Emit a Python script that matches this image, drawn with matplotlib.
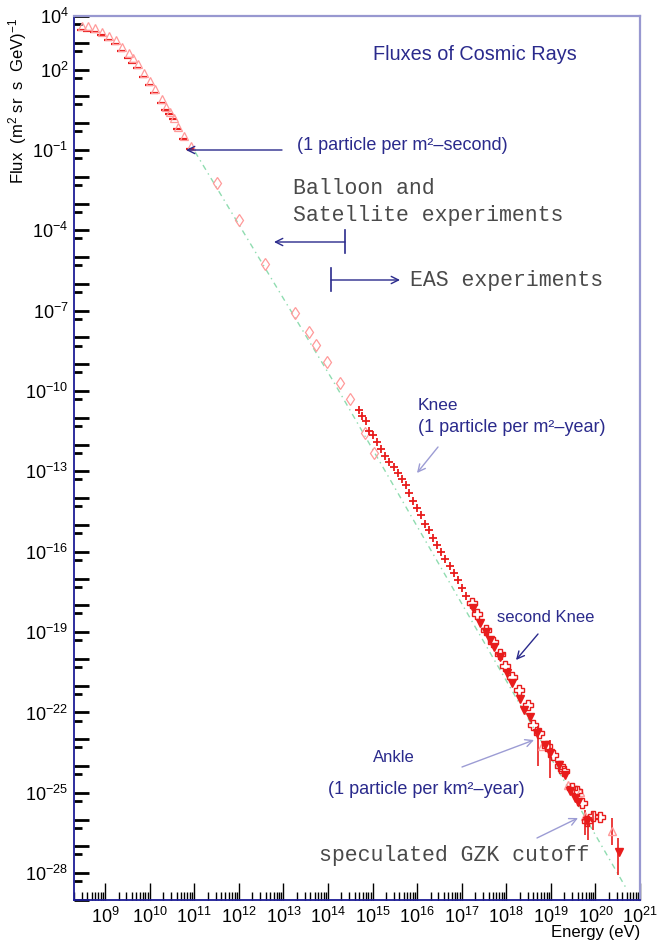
import numpy as np
import matplotlib
matplotlib.use("Agg")
import matplotlib.pyplot as plt
from matplotlib.lines import Line2D
from matplotlib.ticker import FixedLocator, FuncFormatter, NullFormatter

W, H = 664, 952

# ---- values, as log10(E/eV) and log10(flux) ----
# direct measurements at low energy: open triangles and the red bars below them
tri_logE = [8.476, 8.624, 8.775, 8.939, 9.089, 9.239, 9.387, 9.537, 9.634, 9.733,
            9.874, 10.009, 10.127, 10.278, 10.374, 10.457, 10.554, 10.643, 10.771, 10.935]
tri_logF = [3.638, 3.638, 3.541, 3.414, 3.265, 3.104, 2.832, 2.608, 2.422, 2.209,
            1.884, 1.575, 1.276, 0.892, 0.616, 0.407, 0.183, -0.131, -0.467, -0.851]
bar_logE = [8.45, 8.60, 8.75, 8.91, 9.06, 9.21, 9.36, 9.51, 9.61, 9.71,
            9.85, 9.98, 10.10, 10.25, 10.35, 10.43, 10.53, 10.62, 10.75, 10.91]
bar_logF = [3.478, 3.440, 3.392, 3.291, 3.104, 2.955, 2.694, 2.422, 2.235, 2.049,
            1.713, 1.414, 1.127, 0.754, 0.493, 0.332, 0.146, -0.205, -0.601, -0.974]

# balloon / satellite points
dia_logE = [11.505, 12.005, 12.588, 13.261, 13.582, 13.732, 13.986, 14.270, 14.495, 14.831, 15.033]
dia_logF = [-2.243, -3.612, -5.272, -7.082, -7.791, -8.276, -8.910, -9.694, -10.291, -11.560, -12.306]

# air shower array points around the knee
plus_logE = [14.703, 14.757, 14.847, 14.921, 15.017, 15.107, 15.197, 15.287, 15.376, 15.482,
             15.565, 15.655, 15.751, 15.825, 15.915, 16.004, 16.094, 16.184, 16.274, 16.363,
             16.446, 16.543, 16.633, 16.727, 16.817, 16.906, 17.003, 17.090]
plus_logF = [-10.701, -10.914, -11.101, -11.485, -11.634, -11.907, -12.157, -12.418, -12.631, -12.840,
             -13.063, -13.276, -13.511, -13.810, -14.123, -14.369, -14.631, -14.966, -15.205, -15.489,
             -15.765, -16.000, -16.272, -16.522, -16.795, -17.071, -17.354, -17.660]

# highest energies: open crosses, filled down triangles, open triangles
cross_logE = [17.225, 17.350, 17.546, 17.709, 17.860, 17.978, 18.122, 18.275, 18.476, 18.607,
              18.734, 18.907, 19.037, 19.205, 19.306, 19.468, 19.580, 19.692, 19.822, 19.952, 20.092]
cross_logF = [-17.914, -18.325, -18.910, -19.384, -19.806, -20.254, -20.675, -21.149, -21.739, -22.455,
              -22.754, -23.265, -23.575, -23.985, -24.172, -24.817, -24.944, -25.377, -26.037, -25.869, -25.907]
down_logE = [17.261, 17.411, 17.534, 17.635, 17.714, 17.848, 18.005, 18.118, 18.297, 18.387, 18.533,
             18.678, 18.869, 18.981, 19.172, 19.318, 19.430, 19.542, 19.620, 19.822, 20.518]
down_logF = [-18.101, -18.660, -18.985, -19.284, -19.563, -19.937, -20.534, -20.907, -21.504, -21.896, -22.157,
             -22.772, -23.201, -23.519, -23.948, -24.321, -24.937, -25.198, -25.328, -26.056, -27.194]
otri_logE = [18.795, 19.374, 19.654, 19.766, 20.365]
otri_logF = [-23.239, -24.694, -24.955, -25.877, -26.437]

# vertical error bars on the last points
err_logE = [18.719, 18.981, 19.766, 19.840, 19.939, 20.365, 20.513]
err_lo = [-24.011, -24.433, -26.560, -26.746, -26.373, -26.933, -28.052]
err_hi = [-22.519, -23.015, -25.627, -25.813, -25.690, -25.925, -26.672]

# dash-dotted power law guide
fit_logE = [11.018, 14.113, 20.708]
fit_logF = [-1.075, -9.619, -28.612]

# axis labels: every decade on x, every third decade on y (plus the top one)
x_label_exp = list(range(9, 22))
y_label_exp = [4, 2, -1, -4, -7, -10, -13, -16, -19, -22, -25, -28]

NAVY = "#2a2a8c"
LIGHT = "#9c9cd4"
PINK = "#ff9a9a"
RED = "#e81c1c"
GREY = "#4a4a4a"

SANS = ["Liberation Sans", "DejaVu Sans"]
MONO = ["Liberation Mono", "DejaVu Sans Mono"]

plt.rcParams["font.family"] = SANS
plt.rcParams["mathtext.fontset"] = "custom"
plt.rcParams["mathtext.rm"] = "Liberation Sans"
plt.rcParams["mathtext.it"] = "Liberation Sans"
plt.rcParams["mathtext.default"] = "rm"


def p(a):
    return 10.0 ** np.asarray(a, dtype=float)


def fpos(px, py):
    """Pixel position in the reference picture -> figure fraction."""
    return (px / W, 1.0 - py / H)


fig = plt.figure(figsize=(W / 100, H / 100), dpi=100)
ax = fig.add_axes([74 / W, 1 - 900 / H, (640 - 74) / W, (900 - 16) / H])
ax.set_xscale("log")
ax.set_yscale("log")
ax.set_xlim(2e8, 1e21)
ax.set_ylim(1e-29, 1e4)

# frame
for side in ("left", "bottom"):
    ax.spines[side].set_color("#1c1c96")
    ax.spines[side].set_linewidth(1.3)
for side in ("top", "right"):
    ax.spines[side].set_color("#9898d0")
    ax.spines[side].set_linewidth(1.6)

# y ticks
ax.yaxis.set_major_locator(FixedLocator([10.0 ** n for n in range(-29, 5)]))
ax.yaxis.set_minor_locator(FixedLocator([5 * 10.0 ** n for n in range(-30, 4)]))
ax.yaxis.set_major_formatter(FuncFormatter(
    lambda v, pos: (r"$10^{%d}$" % round(np.log10(v))) if round(np.log10(v)) in y_label_exp else ""))
ax.yaxis.set_minor_formatter(NullFormatter())
ax.tick_params(axis="y", which="major", direction="in", length=11, width=2, color="black",
               labelsize=13, pad=4, right=False)
ax.tick_params(axis="y", which="minor", direction="in", length=5.5, width=2, color="black", right=False)

# x ticks
ax.xaxis.set_major_locator(FixedLocator([10.0 ** n for n in x_label_exp]))
ax.xaxis.set_minor_locator(FixedLocator([m * 10.0 ** n for n in range(8, 21) for m in range(2, 10)]))
ax.xaxis.set_major_formatter(FuncFormatter(lambda v, pos: r"$10^{%d}$" % round(np.log10(v))))
ax.xaxis.set_minor_formatter(NullFormatter())
ax.tick_params(axis="x", which="major", direction="in", length=12, width=1, color="black",
               labelsize=13, pad=5, top=False)
ax.tick_params(axis="x", which="minor", direction="in", length=6, width=1, color="black", top=False)

# guide line
ax.plot(p(fit_logE), p(fit_logF), color="#8fdcb0", lw=1.0, ls=(0, (4, 3, 1, 3)), zorder=1)

# data
ax.plot(p(bar_logE), p(bar_logF), ls="none", marker="_", ms=6, mew=1.6, color=RED, zorder=3)
ax.plot(p(tri_logE), p(tri_logF), ls="none", marker="^", ms=5.5, mfc="none", mec=PINK, mew=0.9, zorder=3)
ax.plot(p(dia_logE), p(dia_logF), ls="none", marker="d", ms=6.5, mfc="none", mec=PINK, mew=0.9, zorder=3)
ax.plot(p(plus_logE), p(plus_logF), ls="none", marker="+", ms=5.5, mew=1.3, color=RED, zorder=4)
ax.vlines(p(err_logE), p(err_lo), p(err_hi), colors=RED, lw=1.2, zorder=3)
ax.plot(p(otri_logE), p(otri_logF), ls="none", marker="^", ms=6, mfc="none", mec=PINK, mew=1.0, zorder=3)
ax.plot(p(down_logE), p(down_logF), ls="none", marker="v", ms=5.5, color=RED, mec=RED, zorder=4)
ax.plot(p(cross_logE), p(cross_logF), ls="none", marker="P", ms=7, mfc="none", mec=RED, mew=1.0, zorder=5)

# texts
fig.text(*fpos(373, 55), "Fluxes of Cosmic Rays", color=NAVY, fontsize=14.3, va="center", ha="left")
fig.text(*fpos(297, 146), "(1 particle per m²–second)", color=NAVY, fontsize=13, va="center")
fig.text(*fpos(293, 188), "Balloon and", color=GREY, fontsize=15.5, family=MONO, va="center")
fig.text(*fpos(293, 215), "Satellite experiments", color=GREY, fontsize=15.5, family=MONO, va="center")
fig.text(*fpos(410, 280), "EAS experiments", color=GREY, fontsize=15.5, family=MONO, va="center")
fig.text(*fpos(418, 405), "Knee", color=NAVY, fontsize=12.5, va="center")
fig.text(*fpos(418, 428), "(1 particle per m²–year)", color=NAVY, fontsize=13, va="center")
fig.text(*fpos(497, 618), "second Knee", color=NAVY, fontsize=12, va="center")
fig.text(*fpos(373, 757), "Ankle", color=NAVY, fontsize=12, va="center")
fig.text(*fpos(328, 789), "(1 particle per km²–year)", color=NAVY, fontsize=13, va="center")
fig.text(*fpos(319, 855), "speculated GZK cutoff", color=GREY, fontsize=15.5, family=MONO, va="center")

fig.text(*fpos(18, 18), r"Flux  (m$^{2}$ sr  s  GeV)$^{-1}$", rotation=90, fontsize=12,
         ha="center", va="top")
fig.text(*fpos(640, 933), "Energy (eV)", fontsize=12, ha="right", va="center")


def arrow(x0, y0, x1, y1, color, lw=1.0):
    ax.annotate("", xy=fpos(x1, y1), xytext=fpos(x0, y0), xycoords="figure fraction",
                textcoords="figure fraction",
                arrowprops=dict(arrowstyle="->", color=color, lw=lw, shrinkA=0, shrinkB=0,
                                mutation_scale=13))


def vbar(x, y0, y1, color):
    fig.add_artist(Line2D([x / W, x / W], [1 - y0 / H, 1 - y1 / H], color=color, lw=1.2,
                          transform=fig.transFigure))


arrow(282, 150, 186, 150, NAVY)
vbar(345, 230, 253, NAVY)
arrow(345, 242, 274, 242, NAVY)
vbar(331, 268, 291, NAVY)
arrow(331, 280, 400, 280, NAVY)
arrow(438, 447, 417, 473, LIGHT)
arrow(538, 634, 516, 660, NAVY)
arrow(462, 767, 534, 740, LIGHT)
arrow(537, 838, 578, 818, LIGHT)

fig.savefig("out.png", dpi=100)
